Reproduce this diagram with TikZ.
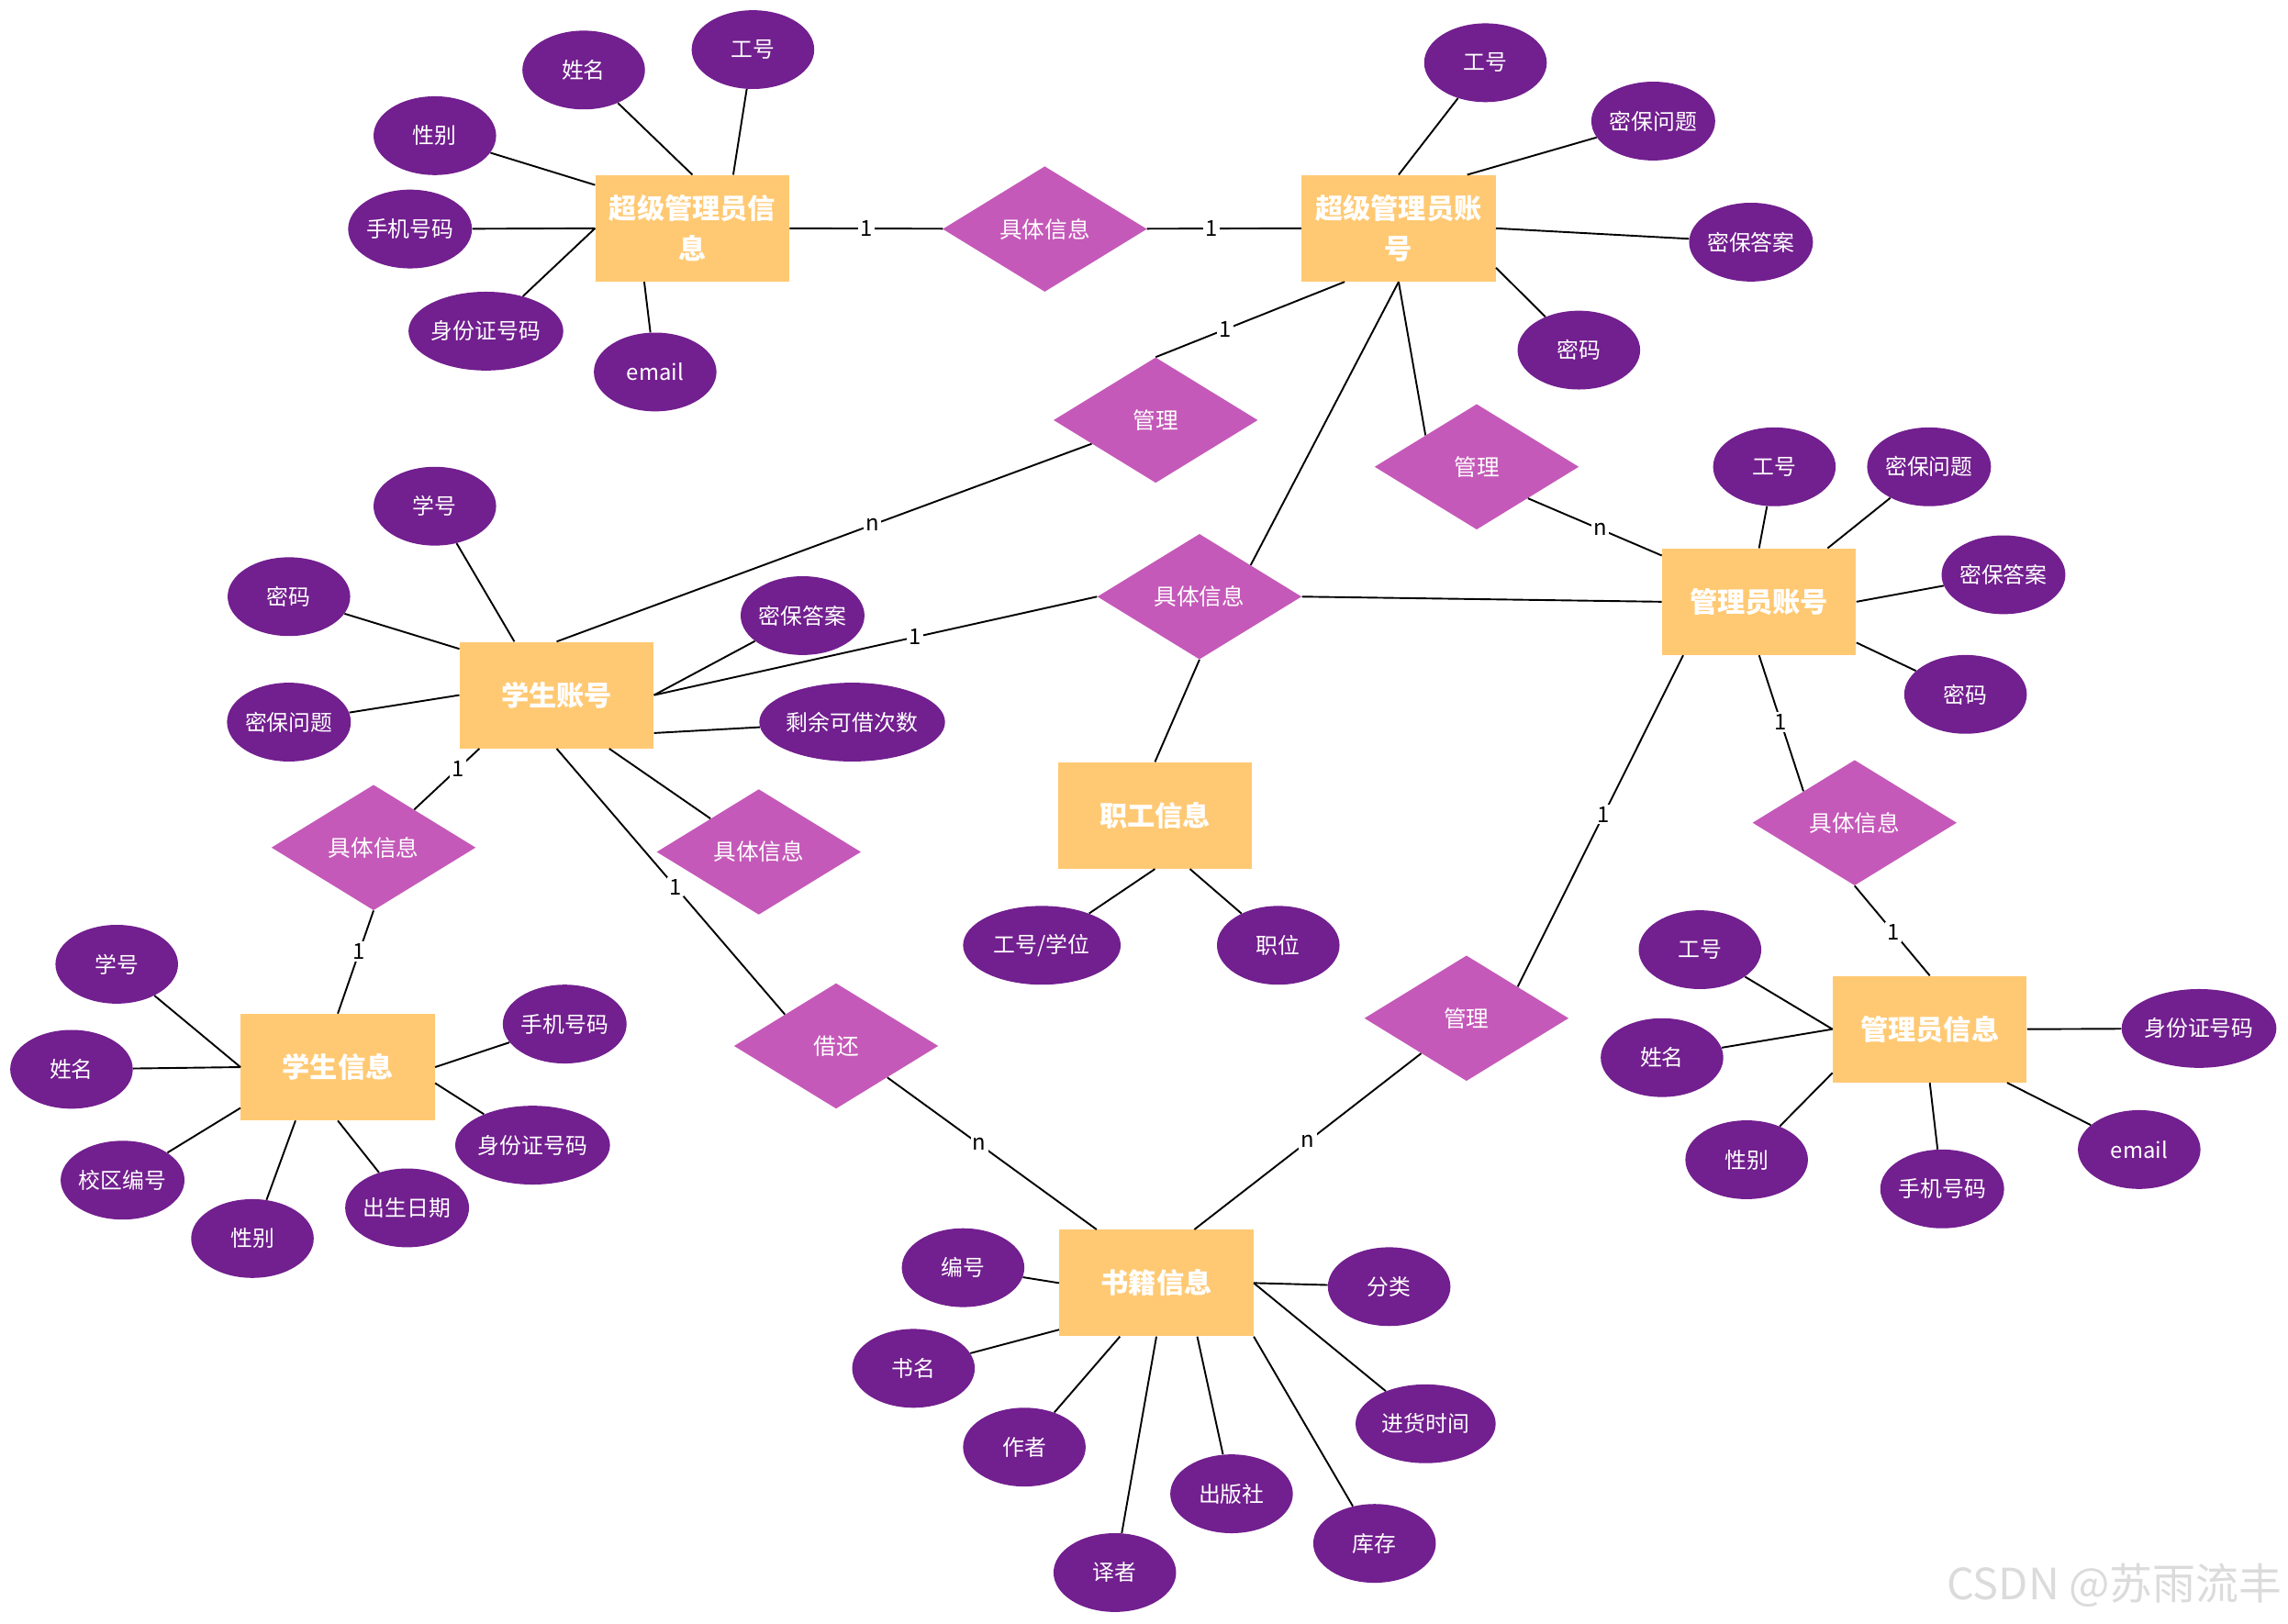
\documentclass[tikz,border=0pt]{standalone}
\usepackage{fontspec}
\setmainfont{Noto Sans CJK SC}
\usetikzlibrary{shapes.geometric}
\definecolor{entfill}{HTML}{FFC973}
\definecolor{relfill}{HTML}{C559B9}
\definecolor{attrfill}{HTML}{721F8F}
\tikzstyle{entity}=[rectangle, fill=entfill, minimum width=133pt, minimum height=73pt, inner sep=2pt, text=white, align=center, font=\fontsize{19}{28}\selectfont\bfseries]
\tikzstyle{relation}=[diamond, fill=relfill, aspect=1.63, minimum width=140pt, minimum height=86pt, inner sep=0pt, text=white, font=\fontsize{15.5}{18}\selectfont]
\tikzstyle{attr}=[ellipse, fill=attrfill, minimum width=84pt, minimum height=54pt, inner sep=0pt, text=white, font=\fontsize{15}{18}\selectfont]
\tikzstyle{link}=[draw=black, line width=1.2pt]
\tikzstyle{card}=[fill=white, inner sep=1.5pt, font=\fontsize{15}{17}\selectfont]

\begin{document}
\begin{tikzpicture}[x=1pt, y=-1pt]
    \useasboundingbox (0,0) rectangle (1568,1113);

    % entities
    \node (sai) at (474.5, 156.5) [entity] {超级管理员信\\息};
    \node (saa) at (958.5, 156.5) [entity] {超级管理员账\\号};
    \node (stuacc) at (381.5, 476.5) [entity] {学生账号};
    \node (staff) at (791.5, 559) [entity] {职工信息};
    \node (admacc) at (1205.5, 412.5) [entity] {管理员账号};
    \node (stuinfo) at (231.5, 731.5) [entity] {学生信息};
    \node (adminfo) at (1322.5, 705.5) [entity] {管理员信息};
    \node (book) at (792.5, 879.5) [entity] {书籍信息};

    % relations
    \node (info1) at (716, 157) [relation] {具体信息};
    \node (manage1) at (792, 288) [relation] {管理};
    \node (manage2) at (1012, 320) [relation] {管理};
    \node (info2) at (822, 409) [relation] {具体信息};
    \node (info3) at (256, 581) [relation] {具体信息};
    \node (info4) at (520, 584) [relation] {具体信息};
    \node (borrow) at (573, 717) [relation] {借还};
    \node (manage3) at (1005, 698) [relation] {管理};
    \node (info5) at (1271, 564) [relation] {具体信息};

    % attributes
    \node (sai_name) at (400, 48) [attr] {姓名};
    \node (sai_id) at (516, 34) [attr] {工号};
    \node (sai_sex) at (298, 93) [attr] {性别};
    \node (sai_tel) at (281, 157) [attr] {手机号码};
    \node (sai_idc) at (333, 227) [attr, minimum width=106pt] {身份证号码};
    \node (sai_mail) at (449, 255) [attr] {email};

    \node (saa_id) at (1018, 43) [attr] {工号};
    \node (saa_q) at (1133, 83) [attr] {密保问题};
    \node (saa_a) at (1200, 166) [attr] {密保答案};
    \node (saa_pw) at (1082, 240) [attr] {密码};

    \node (sa_no) at (298, 347) [attr] {学号};
    \node (sa_pw) at (198, 409) [attr] {密码};
    \node (sa_q) at (198, 495) [attr] {密保问题};
    \node (sa_a) at (550, 422) [attr] {密保答案};
    \node (sa_left) at (584, 495) [attr, minimum width=123pt] {剩余可借次数};

    \node (st_id) at (714, 648) [attr, minimum width=108pt] {工号/学位};
    \node (st_pos) at (876, 648) [attr] {职位};

    \node (aa_id) at (1216, 320) [attr] {工号};
    \node (aa_q) at (1322, 320) [attr] {密保问题};
    \node (aa_a) at (1373, 394) [attr] {密保答案};
    \node (aa_pw) at (1347, 476) [attr] {密码};

    \node (si_no) at (80, 661) [attr] {学号};
    \node (si_name) at (49, 733) [attr] {姓名};
    \node (si_camp) at (84, 809) [attr] {校区编号};
    \node (si_sex) at (173, 849) [attr] {性别};
    \node (si_birth) at (279, 828) [attr] {出生日期};
    \node (si_idc) at (365, 785) [attr, minimum width=104pt] {身份证号码};
    \node (si_tel) at (387, 702) [attr] {手机号码};

    \node (ai_id) at (1165, 651) [attr] {工号};
    \node (ai_name) at (1139, 725) [attr] {姓名};
    \node (ai_sex) at (1197, 795) [attr] {性别};
    \node (ai_tel) at (1331, 815) [attr] {手机号码};
    \node (ai_mail) at (1466, 788) [attr] {email};
    \node (ai_idc) at (1507, 705) [attr, minimum width=104pt] {身份证号码};

    \node (bk_no) at (660, 869) [attr] {编号};
    \node (bk_title) at (626, 938) [attr] {书名};
    \node (bk_auth) at (702, 992) [attr] {作者};
    \node (bk_trans) at (764, 1078) [attr] {译者};
    \node (bk_pub) at (844, 1024) [attr] {出版社};
    \node (bk_stock) at (942, 1058) [attr] {库存};
    \node (bk_time) at (977, 976) [attr, minimum width=96pt] {进货时间};
    \node (bk_cat) at (952, 882) [attr] {分类};

    % super admin info
    \draw (sai.north) -- (sai_name) [link];
    \draw ([xshift=28pt]sai.north) -- (sai_id) [link];
    \draw ([yshift=-7pt]sai.north west) -- (sai_sex) [link];
    \draw (sai.west) -- (sai_tel) [link];
    \draw (sai.west) -- (sai_idc) [link];
    \draw ([xshift=-33pt]sai.south) -- (sai_mail) [link];
    \draw (sai.east) -- (info1) node[card, pos=0.5] {1} [link];

    % super admin account
    \draw (info1) -- (saa.west) node[card, pos=0.42] {1} [link];
    \draw (saa.north) -- (saa_id) [link];
    \draw ([xshift=47pt]saa.north) -- (saa_q) [link];
    \draw (saa.east) -- (saa_a) [link];
    \draw ([yshift=-27pt]saa.east) -- (saa_pw) [link];
    \draw ([xshift=-37pt]saa.south) -- (manage1.north) node[card, pos=0.63] {1} [link];
    \draw (saa.south) -- (manage2.north west) [link];
    \draw (saa.south) -- (info2.north east) [link];

    % student account
    \draw (stuacc.north) -- (manage1) node[card, pos=0.59] {n} [link];
    \draw ([xshift=-29pt]stuacc.north) -- (sa_no) [link];
    \draw ([yshift=-5pt]stuacc.north west) -- (sa_pw) [link];
    \draw (stuacc.west) -- (sa_q) [link];
    \draw (stuacc.east) -- (sa_a) [link];
    \draw ([yshift=-26pt]stuacc.east) -- (sa_left) [link];
    \draw (stuacc.east) -- (info2.west) node[card, pos=0.59] {1} [link];
    \draw ([xshift=-53pt]stuacc.south) -- (info3) node[card, pos=0.33] {1} [link];
    \draw ([xshift=36pt]stuacc.south) -- (info4) [link];
    \draw (stuacc.south) -- (borrow.north west) node[card, pos=0.52] {1} [link];

    % student info
    \draw (info3.south) -- (stuinfo.north) node[card, pos=0.4] {1} [link];
    \draw (stuinfo.west) -- (si_no) [link];
    \draw (stuinfo.west) -- (si_name) [link];
    \draw ([yshift=-28pt]stuinfo.west) -- (si_camp) [link];
    \draw ([xshift=-29pt]stuinfo.south) -- (si_sex) [link];
    \draw (stuinfo.south) -- (si_birth) [link];
    \draw ([yshift=-11pt]stuinfo.east) -- (si_idc) [link];
    \draw (stuinfo.east) -- (si_tel) [link];

    % books
    \draw (borrow.south east) -- ([xshift=-41pt]book.north) node[card, pos=0.44] {n} [link];
    \draw (book.west) -- (bk_no) [link];
    \draw ([yshift=-32pt]book.west) -- (bk_title) [link];
    \draw ([xshift=-25pt]book.south) -- (bk_auth) [link];
    \draw (book.south) -- (bk_trans) [link];
    \draw ([xshift=28pt]book.south) -- (bk_pub) [link];
    \draw (book.south east) -- (bk_stock) [link];
    \draw (book.east) -- (bk_time) [link];
    \draw (book.east) -- (bk_cat) [link];
    \draw ([xshift=26pt]book.north) -- (manage3) node[card, pos=0.5] {n} [link];

    % staff
    \draw (info2.south) -- (staff.north) [link];
    \draw (staff.south) -- (st_id) [link];
    \draw ([xshift=24pt]staff.south) -- (st_pos) [link];

    % admin account
    \draw (info2.east) -- (admacc.west) [link];
    \draw (manage2.south east) -- ([yshift=-5pt]admacc.north west) node[card, pos=0.54] {n} [link];
    \draw (manage3.north east) -- ([xshift=-52pt]admacc.south) node[card, pos=0.52] {1} [link];
    \draw (admacc.north) -- (aa_id) [link];
    \draw ([xshift=47pt]admacc.north) -- (aa_q) [link];
    \draw (admacc.east) -- (aa_a) [link];
    \draw ([yshift=-28pt]admacc.east) -- (aa_pw) [link];
    \draw (admacc.south) -- (info5.north west) node[card, pos=0.49] {1} [link];

    % admin info
    \draw (info5.south) -- (adminfo.north) node[card, pos=0.52] {1} [link];
    \draw (adminfo.west) -- (ai_id) [link];
    \draw (adminfo.west) -- (ai_name) [link];
    \draw ([yshift=-30pt]adminfo.west) -- (ai_sex) [link];
    \draw (adminfo.south) -- (ai_tel) [link];
    \draw ([xshift=53pt]adminfo.south) -- (ai_mail) [link];
    \draw (adminfo.east) -- (ai_idc) [link];

    \node (mark) at (1449, 1087) [text=black!14, font=\fontsize{29.5}{32}\selectfont] {CSDN @苏雨流丰};
  \end{tikzpicture}
\end{document}
